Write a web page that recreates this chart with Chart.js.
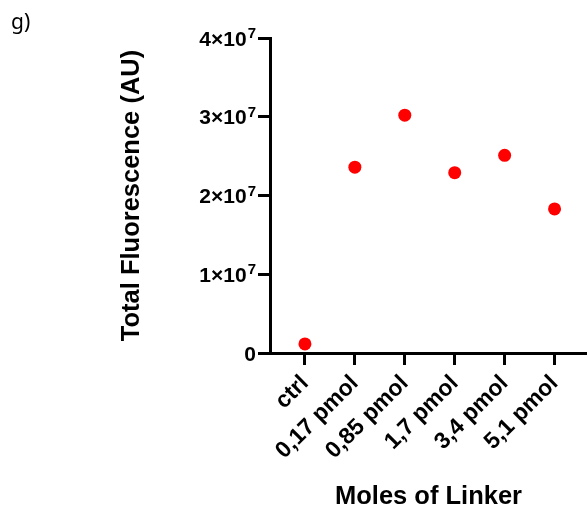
<!DOCTYPE html>
<html><head><meta charset="utf-8">
<script src="https://cdn.jsdelivr.net/npm/chart.js@4"></script>
<style>html,body{margin:0;padding:0;background:#fff;}canvas{display:block;}</style>
</head><body>
<canvas id="c" width="587" height="512"></canvas>
<script>
const categories = ['ctrl', '0,17 pmol', '0,85 pmol', '1,7 pmol', '3,4 pmol', '5,1 pmol'];
const fluorescence = [1.15e6, 2.36e7, 3.02e7, 2.29e7, 2.51e7, 1.83e7];
const yTickValues = [0, 1e7, 2e7, 3e7, 4e7];
const yTickMantissa = ['0', '1×10', '2×10', '3×10', '4×10'];
const yTickExponent = ['', '7', '7', '7', '7'];
const panelLabel = 'g)';
const xTitle = 'Moles of Linker';
const yTitle = 'Total Fluorescence (AU)';

const points = categories.map((c, i) => ({x: i, y: fluorescence[i]}));
const FONT = '"Liberation Sans", Arial, sans-serif';

const panelPlugin = {
  id: 'panel',
  afterLayout(chart) {
    const s = chart.scales.x;
    s.right = chart.width;
    s.width = s.right - s.left;
    chart.chartArea.right = chart.width;
    chart.chartArea.width = chart.chartArea.right - chart.chartArea.left;
    s.configure();
  },
  afterDraw(chart) {
    const ctx = chart.ctx;
    ctx.save();
    ctx.fillStyle = '#000';
    ctx.font = '21px "Noto Sans"';
    ctx.textBaseline = 'alphabetic';
    ctx.textAlign = 'left';
    ctx.fillText(panelLabel, 11, 29);
    // y tick labels with superscript exponent
    const ys = chart.scales.y;
    const rightEdge = ys.right - 14;
    yTickValues.forEach((v, i) => {
      const py = ys.getPixelForValue(v);
      ctx.textAlign = 'right';
      let x = rightEdge;
      if (yTickExponent[i]) {
        ctx.font = 'bold 15px ' + FONT;
        ctx.fillText(yTickExponent[i], x, py);
        x -= ctx.measureText(yTickExponent[i]).width + 1;
      }
      ctx.font = 'bold 21px ' + FONT;
      ctx.fillText(yTickMantissa[i], x, py + 7.5);
    });
    ctx.restore();
  }
};

new Chart(document.getElementById('c'), {
  type: 'scatter',
  data: { datasets: [{ data: points, backgroundColor: '#ff0000', borderWidth: 0, pointRadius: 6.5, pointHoverRadius: 6.5 }] },
  options: {
    responsive: false,
    animation: false,
    events: [],
    layout: { padding: { left: 117, top: 38, right: 0, bottom: 0 } },
    plugins: { legend: { display: false }, tooltip: { enabled: false } },
    scales: {
      x: {
        type: 'linear',
        min: -0.7,
        max: 5.65,
        afterBuildTicks: s => { s.ticks = categories.map((c, i) => ({ value: i })); },
        afterFit: s => { s.height = 512 - 353; },
        ticks: {
          callback: (v) => categories[v] ?? '',
          color: '#000',
          font: { family: FONT, size: 23, weight: 'bold' },
          minRotation: 45, maxRotation: 45,
          padding: 5
        },
        grid: { drawOnChartArea: false, drawTicks: true, tickLength: 12, tickWidth: 3, tickColor: '#000' },
        border: { display: true, color: '#000', width: 3 },
        title: { display: true, text: xTitle, color: '#000', font: { family: FONT, size: 25.5, weight: 'bold' }, padding: { top: 4, bottom: 0 } }
      },
      y: {
        min: 0,
        max: 4e7,
        afterBuildTicks: s => { s.ticks = yTickValues.map(v => ({ value: v })); },
        afterFit: s => { s.width = 270 - 117; },
        ticks: { display: false },
        grid: { drawOnChartArea: false, drawTicks: true, tickLength: 12, tickWidth: 3, tickColor: '#000' },
        border: { display: true, color: '#000', width: 3 },
        title: { display: true, text: yTitle, color: '#000', font: { family: FONT, size: 25.5, weight: 'bold' }, padding: { top: 0, bottom: 0 } }
      }
    }
  },
  plugins: [panelPlugin]
});
</script>
</body></html>
